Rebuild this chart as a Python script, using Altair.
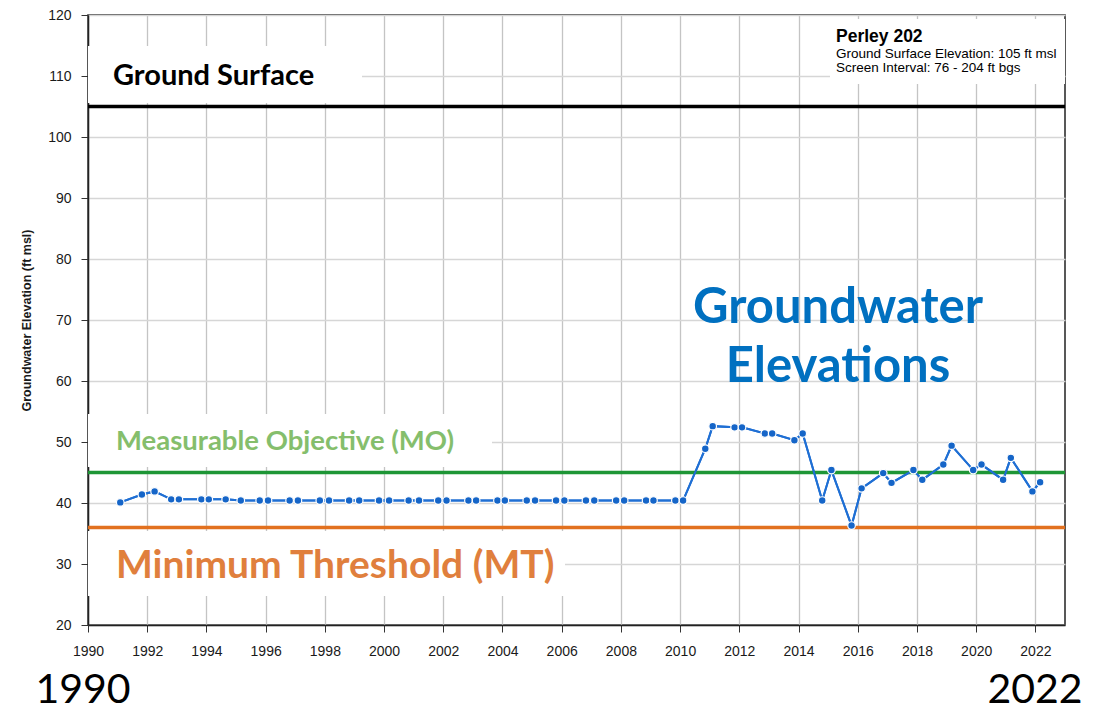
import altair as alt
import pandas as pd

# ---- data ----
dates = [1991.09, 1991.82, 1992.25, 1992.81, 1993.07, 1993.83, 1994.08, 1994.65, 1995.16, 1995.80,
         1996.08, 1996.81, 1997.09, 1997.83, 1998.14, 1998.82, 1999.16, 1999.83, 2000.17, 2000.83,
         2001.18, 2001.83, 2002.11, 2002.85, 2003.11, 2003.83, 2004.08, 2004.82, 2005.10, 2005.81,
         2006.09, 2006.82, 2007.10, 2007.84, 2008.11, 2008.85, 2009.10, 2009.84, 2010.10,
         2010.85, 2011.10, 2011.84, 2012.09, 2012.86, 2013.11, 2013.86, 2014.14, 2014.80, 2015.11,
         2015.79, 2016.13, 2016.86, 2017.14, 2017.88, 2018.18, 2018.89, 2019.17, 2019.90, 2020.18,
         2020.91, 2021.17, 2021.90, 2022.16]
elevation = [40.1, 41.4, 41.9, 40.6, 40.6, 40.6, 40.6, 40.6, 40.4, 40.4,
             40.4, 40.4, 40.4, 40.4, 40.4, 40.4, 40.4, 40.4, 40.4, 40.4,
             40.4, 40.4, 40.4, 40.4, 40.4, 40.4, 40.4, 40.4, 40.4, 40.4,
             40.4, 40.4, 40.4, 40.4, 40.4, 40.4, 40.4, 40.4, 40.4,
             48.9, 52.6, 52.4, 52.4, 51.4, 51.4, 50.3, 51.4, 40.4, 45.4,
             36.3, 42.4, 44.9, 43.3, 45.4, 43.8, 46.3, 49.4, 45.4, 46.3,
             43.8, 47.4, 41.9, 43.4]

level_names = ["Ground Surface", "MO", "MT"]
level_values = [105, 45, 36]
level_colors = ["#000000", "#1E9636", "#E2711F"]

x_ticks = list(range(1990, 2023))
y_ticks = [20, 30, 40, 50, 60, 70, 80, 90, 100, 110, 120]

W, H = 977, 610

df = pd.DataFrame({"year": dates, "elev": elevation})
levels = pd.DataFrame({"name": level_names, "value": level_values, "color": level_colors})

x_scale = alt.Scale(domain=[1990, 2023], nice=False, zero=False)
y_scale = alt.Scale(domain=[20, 120], nice=False, zero=False)

x_axis = alt.Axis(
    values=x_ticks, format="d", title=None,
    labelExpr="datum.value % 2 === 0 ? datum.label : ''",
    labelFont="Liberation Sans", labelFontSize=14, labelColor="#1a1a1a",
    labelPadding=12, labelFlush=False, labelOverlap=False,
    tickSize=7, tickColor="#333333",
    tickOpacity=alt.condition("datum.value % 2 === 0", alt.value(1), alt.value(0)),
    gridColor=alt.condition("datum.value % 2 === 0", alt.value("#c4c4c4"), alt.value("#e8e8e8")),
    gridWidth=1.3,
    domainColor="#222222", domainWidth=1.5,
)
y_axis = alt.Axis(
    values=y_ticks, title="Groundwater Elevation (ft msl)",
    titleFont="Liberation Sans", titleFontSize=12.5, titleFontWeight="bold", titleColor="#1a1a1a",
    titlePadding=14,
    labelFont="Liberation Sans", labelFontSize=14, labelColor="#1a1a1a", labelPadding=10,
    labelFlush=False,
    tickSize=7, tickColor="#333333",
    gridColor="#d6d6d6", gridWidth=1.3,
    domainColor="#222222", domainWidth=1.5,
)

base = alt.Chart(df)

line = base.mark_line(color="#1F6FD4", strokeWidth=2).encode(
    x=alt.X("year:Q", scale=x_scale, axis=x_axis),
    y=alt.Y("elev:Q", scale=y_scale, axis=y_axis),
)
points = base.mark_circle(size=58, opacity=1, color="#1565C8", stroke="white", strokeWidth=1.2).encode(
    x=alt.X("year:Q", scale=x_scale),
    y=alt.Y("elev:Q", scale=y_scale),
)

rules = alt.Chart(levels).mark_rule(strokeWidth=3.5).encode(
    y=alt.Y("value:Q", scale=y_scale),
    color=alt.Color("color:N", scale=None),
)


def one(txt=""):
    return alt.Chart(pd.DataFrame({"t": [txt]}))


def white_box(x1, x2, y1, y2):
    return one().mark_rect(fill="white").encode(
        x=alt.value(x1), x2=alt.value(x2), y=alt.value(y1), y2=alt.value(y2)
    )


def label(txt, x, y, size, color, weight="bold", font="Lato", align="left"):
    return one(txt).mark_text(
        font=font, fontSize=size, fontWeight=weight, color=color, align=align, baseline="alphabetic"
    ).encode(x=alt.value(x), y=alt.value(y), text="t:N")


boxes = [
    white_box(0, 274, 31, 88),      # Ground Surface
    white_box(742, W, 4, 69),       # Perley box
    white_box(0, 404, 399, 452),    # MO
    white_box(0, 477, 516, 581),    # MT
]

texts = [
    label("Ground Surface", 25, 70, 29, "#000000"),
    label("Perley 202", 748, 27, 17.5, "#000000", font="Liberation Sans"),
    label("Ground Surface Elevation: 105 ft msl", 748, 43, 13.5, "#000000", weight="normal", font="Liberation Sans"),
    label("Screen Interval: 76 - 204 ft bgs", 748, 57, 13.5, "#000000", weight="normal", font="Liberation Sans"),
    label("Measurable Objective (MO)", 28, 435, 27.5, "#85BE6C"),
    label("Minimum Threshold (MT)", 28, 563, 39, "#E07F3D"),
    label("Groundwater", 750, 308, 49, "#0070C0", align="center"),
    label("Elevations", 750, 367, 49, "#0070C0", align="center"),
    label("1990", -5, 688, 41, "#000000", weight="normal", align="center"),
    label("2022", 947, 688, 41, "#000000", weight="normal", align="center"),
]

chart = alt.layer(line, *boxes, rules, line, points, *texts).properties(
    width=W, height=H,
    padding={"left": 12, "top": 0, "right": 5, "bottom": 0},
    background="white",
).configure_view(stroke="#222222", strokeWidth=1.5)

chart.save("out.html", embed_options={"renderer": "svg", "actions": False})
